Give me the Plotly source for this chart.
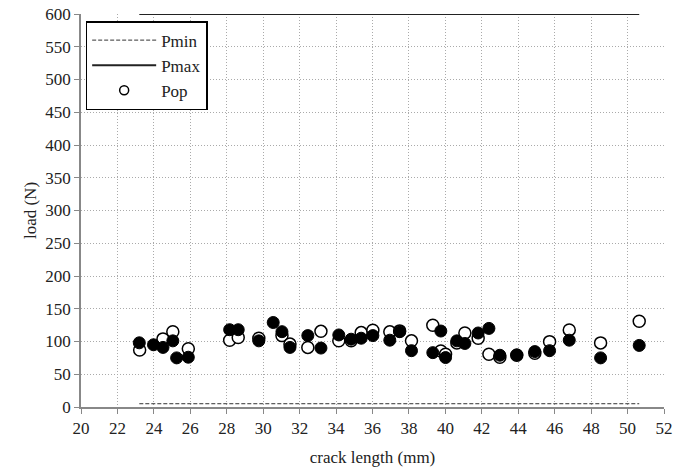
import plotly.graph_objects as go

# Reference lines
pmin_x = [23.2, 50.64]
pmin_y = [5, 5]
pmax_x = [23.2, 50.64]
pmax_y = [600, 600]

# Pop (open circles)
pop_x = [23.22, 24.5, 25.04, 25.89, 28.16, 28.63, 29.76, 31.03, 31.47, 32.45, 33.17,
         34.15, 34.83, 35.38, 36.02, 36.95, 37.49, 38.14, 39.31, 39.75, 40.01, 40.63,
         41.07, 41.80, 42.39, 42.99, 43.92, 44.91, 45.72, 46.80, 48.52, 50.64]
pop_y = [87, 104, 115, 89, 102, 106, 105, 109, 96, 91, 115.5,
         101, 101, 113.6, 117.3, 114.7, 116.2, 101, 124.9, 85.6, 80.6, 97.9,
         113.1, 105, 80.6, 76, 79, 82, 99.8, 117.7, 97.9, 131]

# second series (filled circles)
fil_x = [23.2, 23.98, 24.5, 25.04, 25.25, 25.89, 28.16, 28.63, 29.76, 30.55, 31.03,
         31.47, 32.45, 33.17, 34.15, 34.83, 35.38, 36.02, 36.95, 37.49, 38.14, 39.31,
         39.75, 40.01, 40.63, 41.07, 41.80, 42.39, 42.99, 43.92, 44.91, 45.72, 46.80,
         48.52, 50.64]
fil_y = [98, 95, 91, 101, 75, 76, 118, 118, 101, 129, 115,
         91, 109, 90, 110, 103.5, 105, 109, 102, 115, 86, 83,
         116, 75.5, 101, 97, 113, 120, 79, 79.5, 84.6, 86, 102,
         75, 94]

x_ticks = list(range(20, 53, 2))
y_ticks = list(range(0, 601, 50))

FONT = "Liberation Serif"
TXT = "#222222"

fig = go.Figure()
fig.add_trace(go.Scatter(x=pmin_x, y=pmin_y, mode="lines", name="Pmin",
                         line=dict(color="#333333", width=1, dash="4px,2px")))
fig.add_trace(go.Scatter(x=pmax_x, y=pmax_y, mode="lines", name="Pmax",
                         line=dict(color="#222222", width=2)))
fig.add_trace(go.Scatter(x=pop_x, y=pop_y, mode="markers", name="Pop",
                         legendgroup="pop", showlegend=False,
                         marker=dict(symbol="circle", size=12, color="white",
                                     line=dict(color="black", width=1.5))))
# legend entry for Pop (smaller symbol, as in the reference legend)
fig.add_trace(go.Scatter(x=[None], y=[None], mode="markers", name="Pop",
                         legendgroup="pop", showlegend=True,
                         marker=dict(symbol="circle", size=9, color="white",
                                     line=dict(color="black", width=1.5))))
fig.add_trace(go.Scatter(x=fil_x, y=fil_y, mode="markers", name="filled", showlegend=False,
                         marker=dict(symbol="circle", size=12, color="black",
                                     line=dict(color="black", width=1))))

fig.update_layout(
    width=687, height=468,
    margin=dict(l=81, r=23, t=14, b=61),
    paper_bgcolor="white", plot_bgcolor="white",
    font=dict(family=FONT, size=17, color=TXT),
    showlegend=True,
    legend=dict(x=0.008, y=0.982, xanchor="left", yanchor="top",
                bgcolor="white", bordercolor="black", borderwidth=1.5,
                font=dict(family=FONT, size=17, color=TXT),
                tracegroupgap=0, itemwidth=64, entrywidth=142, entrywidthmode="pixels"),
    xaxis=dict(range=[20, 52], tickvals=x_ticks, ticktext=[str(t) for t in x_ticks],
               showgrid=True, gridcolor="#aaaaaa", griddash="1px,2px", gridwidth=1,
               showline=True, linecolor="#888888", linewidth=1.5,
               ticks="outside", ticklen=5, tickcolor="#888888",
               zeroline=False, automargin=False,
               title=dict(text="crack length (mm)", font=dict(family=FONT, size=17, color=TXT), standoff=14),
               tickfont=dict(family=FONT, size=17, color=TXT)),
    yaxis=dict(range=[0, 600], tickvals=y_ticks, ticktext=[str(t) for t in y_ticks],
               showgrid=True, gridcolor="#aaaaaa", griddash="1px,2px", gridwidth=1,
               showline=True, linecolor="#888888", linewidth=1.5,
               ticks="outside", ticklen=5, tickcolor="#888888",
               zeroline=False, automargin=False,
               title=dict(text="load (N)", font=dict(family=FONT, size=17, color=TXT), standoff=4),
               tickfont=dict(family=FONT, size=17, color=TXT)),
)

fig.write_html("out.html", config={"displayModeBar": False},
               post_script="document.body.style.margin='0px';")
